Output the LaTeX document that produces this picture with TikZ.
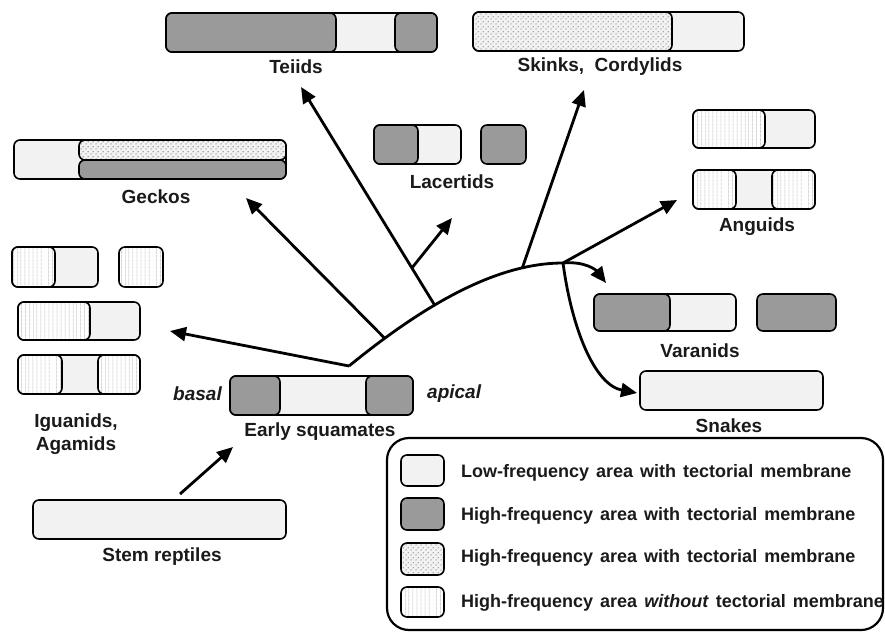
\documentclass[tikz,border=0pt]{standalone}
\usepackage{fontspec}
\setmainfont{Liberation Sans}
\newfontfamily\legfont[WordSpace=1.4]{Liberation Sans}
\usetikzlibrary{arrows.meta,patterns,patterns.meta}
\definecolor{lightseg}{HTML}{F2F2F2}
\definecolor{darkseg}{HTML}{9A9A9A}
\definecolor{inkc}{HTML}{1A1A1A}
\pgfdeclarepatternformonly{sdots}{\pgfpointorigin}{\pgfqpoint{5pt}{5pt}}{\pgfqpoint{5pt}{5pt}}{%
  \pgfpathcircle{\pgfqpoint{1.25pt}{1.25pt}}{0.8pt}%
  \pgfpathcircle{\pgfqpoint{3.75pt}{3.75pt}}{0.8pt}%
  \pgfusepath{fill}}
\tikzset{
  box/.style={draw=black, line width=1.6pt, rounded corners=6pt, inner sep=0pt, outer sep=0pt},
  lightbox/.style={box, fill=lightseg},
  darkbox/.style={box, fill=darkseg},
  dotbox/.style={box, preaction={fill=lightseg}, pattern=sdots, pattern color=gray!90},
  linebox/.style={box, preaction={fill=white}, pattern={Lines[angle=90,distance=4pt,line width=0.6pt]}, pattern color=gray!65},
  lab/.style={font=\bfseries\fontsize{19}{23}\selectfont, text=inkc, inner sep=0pt, align=center},
  legtext/.style={font=\legfont\bfseries\fontsize{18}{21}\selectfont, text=inkc, inner sep=0pt, anchor=west},
  trunk/.style={line width=2.8pt},
  branch/.style={line width=2.8pt, -{Triangle[length=16pt,width=14pt]}},
}
\newcommand\segm[5]{\draw[#1] (#2,#3) rectangle (#4,#5);}
\begin{document}
\begin{tikzpicture}[x=1pt,y=-1pt]
\useasboundingbox (0,0) rectangle (885,635);

% ---- Teiids
\node[lightbox, minimum width=271, minimum height=39] (teiids) at (301.5,32.5) {};
\segm{darkbox}{166}{13}{336}{52}
\segm{darkbox}{395}{13}{437}{52}
\node[lab] (teiidsL) at (296,67) {Teiids};

% ---- Skinks
\node[lightbox, minimum width=271, minimum height=39] (skinks) at (608.5,31.5) {};
\segm{dotbox}{473}{12}{672}{51}
\node[lab] (skinksL) at (600,67) {Skinks,\ \ Cordylids};

% ---- Geckos
\node[lightbox, minimum width=272, minimum height=39] (geckos) at (150,159.5) {};
\segm{dotbox}{79}{140}{286}{160}
\segm{darkbox}{79}{160}{286}{179}
\node[lab] (geckosL) at (156,197) {Geckos};

% ---- Lacertids
\node[lightbox, minimum width=87, minimum height=39] (lacA) at (417.5,144.5) {};
\segm{darkbox}{374}{125}{418}{164}
\node[darkbox, minimum width=45, minimum height=39] (lacB) at (503.5,144.5) {};
\node[lab] (lacL) at (452,182) {Lacertids};

% ---- Iguanids, Agamids
\node[lightbox, minimum width=86, minimum height=40] (igA) at (55,267) {};
\segm{linebox}{12}{247}{55}{287}
\node[linebox, minimum width=44, minimum height=40] (igB) at (141,267) {};
\node[lightbox, minimum width=122, minimum height=38] (igC) at (79,321) {};
\segm{linebox}{18}{302}{90}{340}
\node[lightbox, minimum width=122, minimum height=39] (igD) at (79,374.5) {};
\segm{linebox}{18}{355}{62}{394}
\segm{linebox}{98}{355}{140}{394}
\node[lab] (igL) at (76,434) {Iguanids,\\Agamids};

% ---- Anguids
\node[lightbox, minimum width=122, minimum height=38] (anA) at (754,129) {};
\segm{linebox}{693}{110}{765}{148}
\node[lightbox, minimum width=122, minimum height=39] (anB) at (754,189.5) {};
\segm{linebox}{693}{170}{736}{209}
\segm{linebox}{772}{170}{815}{209}
\node[lab] (anL) at (757,227) {Anguids};

% ---- Varanids
\node[lightbox, minimum width=142, minimum height=37] (varA) at (665,312.5) {};
\segm{darkbox}{594}{294}{670}{331}
\node[darkbox, minimum width=79, minimum height=37] (varB) at (796.5,312.5) {};
\node[lab] (varL) at (700,351) {Varanids};

% ---- Snakes
\node[lightbox, minimum width=183, minimum height=39] (snakes) at (731.5,390.5) {};
\node[lab] (snL) at (729,426) {Snakes};

% ---- Early squamates
\node[lightbox, minimum width=183, minimum height=39] (early) at (321.5,395.5) {};
\segm{darkbox}{230}{376}{280}{415}
\segm{darkbox}{366}{376}{413}{415}
\node[lab] (earlyL) at (320,432) {Early squamates};
\node[lab, font=\bfseries\itshape\fontsize{19}{23}\selectfont, anchor=east] (basal) at (222,394) {basal};
\node[lab, font=\bfseries\itshape\fontsize{19}{23}\selectfont, anchor=west] (apical) at (427,394) {apical};

% ---- Stem reptiles
\node[lightbox, minimum width=253, minimum height=39] (stem) at (159.5,519.5) {};
\node[lab] (stemL) at (162,557) {Stem reptiles};

% ---- Tree
\coordinate (R) at (349,366);
\coordinate (V) at (563,263);
\draw[trunk] (R) .. controls (430,300) and (500,263) .. (V)
  coordinate[pos=0.15] (bG) coordinate[pos=0.37] (bT) coordinate[pos=0.79] (bS);
\coordinate (tG) at (246,198);
\coordinate (tT) at (301,87);
\coordinate (tL) at (452,218);
\coordinate (tI) at (170,331);
\coordinate (tS) at (584,90);
\coordinate (tA) at (677,200);
\coordinate (tV) at (606,283);
\coordinate (tN) at (637,393);
\draw[branch] (bG) -- (tG);
\draw[branch] (bT) -- (tT) coordinate[pos=0.17] (bL);
\draw[branch] (bL) -- (tL);
\draw[branch] (R) -- (tI);
\draw[branch] (bS) -- (tS);
\draw[branch] (V) -- (tA);
\draw[branch] (V) .. controls (585,261) and (596,270) .. (tV);
\draw[branch] (V) .. controls (572,330) and (595,385) .. (tN);
\coordinate (sT) at (180,494);
\coordinate (eT) at (233,447);
\draw[branch] (sT) -- (eT);

% ---- Legend
\node[draw=black, line width=2.2pt, rounded corners=22pt, minimum width=496, minimum height=192, inner sep=0pt] (legend) at (635,534) {};
\node[lightbox, minimum width=43, minimum height=31] (k1) at (422.5,470.5) {};
\node[darkbox, minimum width=43, minimum height=32] (k2) at (422.5,514) {};
\node[dotbox, minimum width=43, minimum height=32] (k3) at (422.5,559) {};
\node[linebox, minimum width=43, minimum height=30] (k4) at (422.5,602) {};
\node[legtext] (t1) at (461,473) {Low-frequency area with tectorial membrane};
\node[legtext] (t2) at (461,516) {High-frequency area with tectorial membrane};
\node[legtext] (t3) at (461,558) {High-frequency area with tectorial membrane};
\node[legtext] (t4) at (461,603) {High-frequency area \textit{without} tectorial membrane};
\end{tikzpicture}
\end{document}
